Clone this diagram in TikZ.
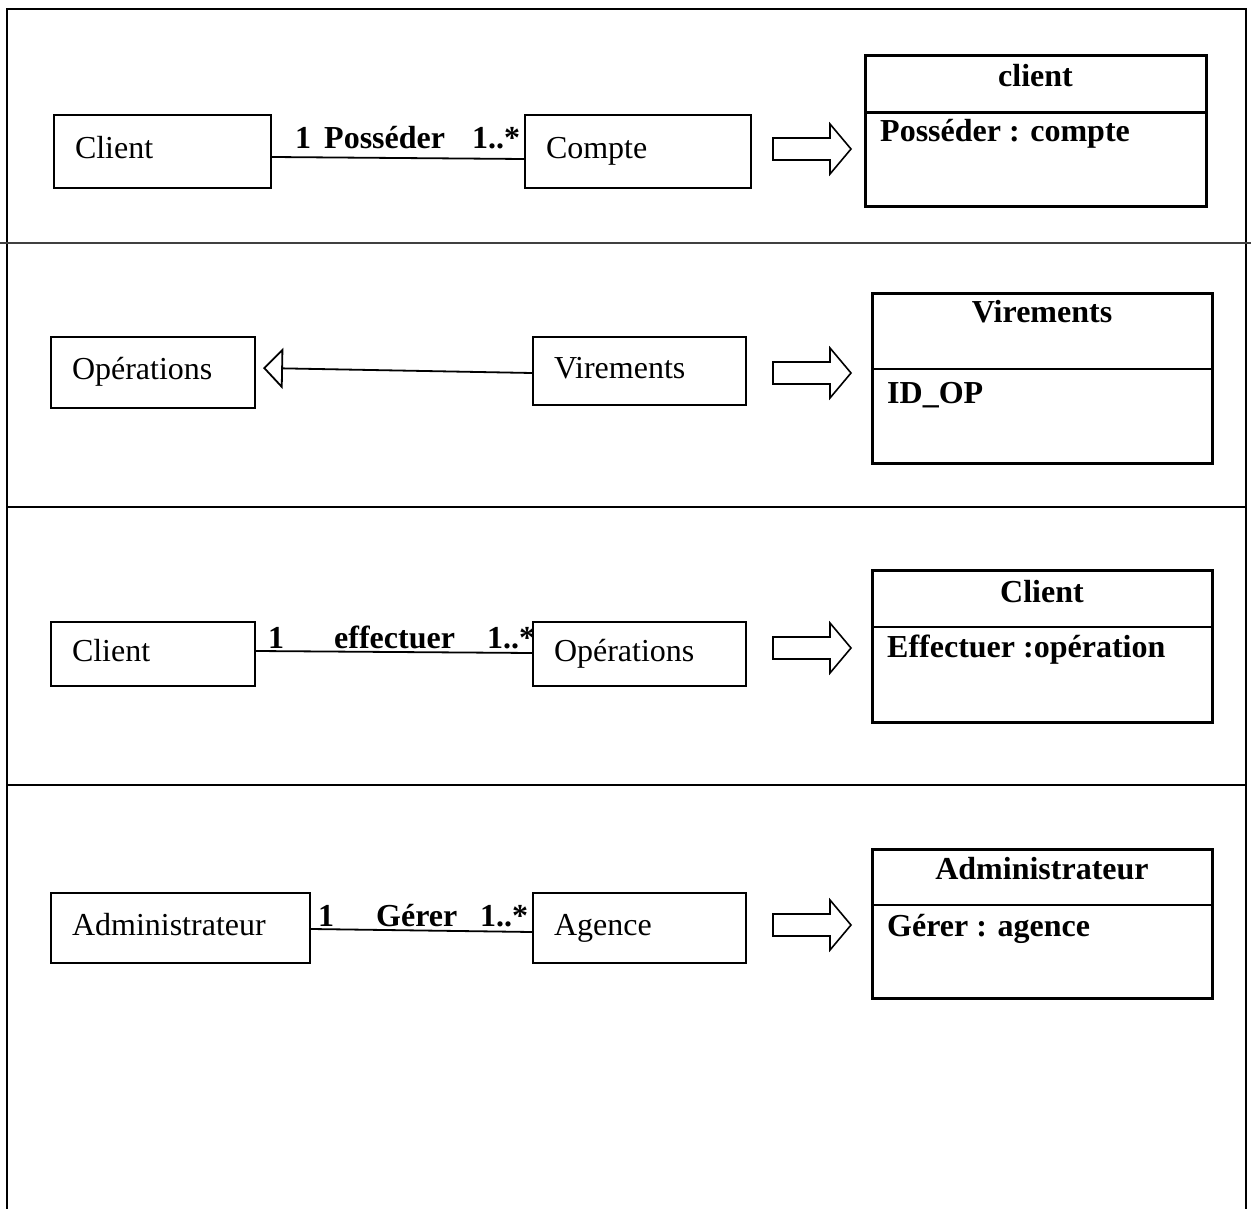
\documentclass[tikz,border=0pt]{standalone}
\usepackage{fontspec}
\setmainfont{Liberation Serif}
\usetikzlibrary{arrows.meta,positioning}

\begin{document}
\begin{tikzpicture}[x=1pt,y=-1pt,line join=miter,
  entity/.style={draw,line width=2pt,inner xsep=21pt,inner ysep=0pt,align=left,
    text height=22pt,text depth=8pt,font=\fontsize{32}{38}\selectfont},
  mult/.style={inner sep=0pt,anchor=base west,font=\fontsize{32}{38}\selectfont\bfseries},
  classbox/.style={draw,line width=3pt,inner sep=0pt},
  classline/.style={line width=2.6pt},
  classtxt/.style={inner sep=0pt,font=\fontsize{32}{38}\selectfont\bfseries},
  frame/.style={line width=2.6pt},
  link/.style={line width=1.8pt},
  bigarrow/.style={line width=1.6pt}]
  \useasboundingbox (0,0) rectangle (1251,1209);
  % outer frame and row separators
  \draw[frame] (7,1209) -- (7,9) -- (1246,9) -- (1246,1209);
  \draw[line width=2pt,black!75] (0,243) -- (1251,243);
  \draw[frame] (7,507) -- (1246,507);
  \draw[frame] (7,785) -- (1246,785);

  % row 1 : Client -- Compte
  \node[entity,text width=175pt,minimum height=73pt] (cl1) at (162.5,151.5) {Client};
  \node[entity,text width=184pt,minimum height=73pt] (co1) at (638,151.5) {Compte};
  \draw[link] ([yshift=-5.5pt]cl1.east) -- ([yshift=-7.5pt]co1.west);
  \node[mult] (m1a) at (295,149) {1};
  \node[mult] (r1) at (324,149) {Posséder};
  \node[mult] (m1b) at (472,149) {1..*};
  \draw[bigarrow] (773,138) -- (830,138) -- (830,124) -- (851,149) -- (830,174) -- (830,160) -- (773,160) -- cycle;
  \node[classbox,minimum width=341pt,minimum height=151pt] (cb1) at (1035.5,131.5) {};
  \draw[classline] (865,112.5) -- (1206,112.5);
  \node[classtxt,anchor=base] (t1) at (1035.5,87) {client};
  \node[classtxt,anchor=base west] (a1) at (880,142) {Posséder : compte};

  % row 2 : Virements herite de Operations
  \node[entity,text width=162pt,minimum height=71pt] (op2) at (153,372.5) {Opérations};
  \node[entity,text width=171pt,minimum height=68pt] (vi2) at (639.5,371) {Virements};
  \draw[link,-{Triangle[open,length=20pt,width=41pt,line width=1.8pt]}] ([yshift=-2pt]vi2.west) -- ([xshift=7pt,yshift=4.5pt]op2.east);
  \draw[bigarrow] (773,362) -- (830,362) -- (830,348) -- (851,373) -- (830,398) -- (830,384) -- (773,384) -- cycle;
  \node[classbox,minimum width=340pt,minimum height=169pt] (cb2) at (1042,378.5) {};
  \draw[classline] (872,369) -- (1212,369);
  \node[classtxt,anchor=base] (t2) at (1042,323) {Virements};
  \node[classtxt,anchor=base west] (a2) at (887,403) {ID\_OP};

  % row 3 : Client -- Operations
  \node[entity,text width=162pt,minimum height=64pt] (cl3) at (153,654) {Client};
  \node[entity,text width=171pt,minimum height=64pt] (op3) at (639.5,654) {Opérations};
  \draw[link] ([yshift=3pt]cl3.east) -- ([yshift=1pt]op3.west);
  \node[mult] (m3a) at (268,648) {1};
  \node[mult] (r3) at (334,648) {effectuer};
  \node[mult] (m3b) at (487,648) {1..*};
  \draw[bigarrow] (773,637) -- (830,637) -- (830,623) -- (851,648) -- (830,673) -- (830,659) -- (773,659) -- cycle;
  \node[classbox,minimum width=340pt,minimum height=152pt] (cb3) at (1042,646) {};
  \draw[classline] (872,627) -- (1212,627);
  \node[classtxt,anchor=base] (t3) at (1042,602) {Client};
  \node[classtxt,anchor=base west] (a3) at (887,657) {Effectuer :opération};

  % row 4 : Administrateur -- Agence
  \node[entity,text width=217pt,minimum height=70pt] (ad4) at (180.5,928) {Administrateur};
  \node[entity,text width=171pt,minimum height=70pt] (ag4) at (639.5,928) {Agence};
  \draw[link] ([yshift=-1pt]ad4.east) -- ([yshift=-4pt]ag4.west);
  \node[mult] (m4a) at (318,926) {1};
  \node[mult] (r4) at (376,926) {Gérer};
  \node[mult] (m4b) at (480,926) {1..*};
  \draw[bigarrow] (773,914) -- (830,914) -- (830,900) -- (851,925) -- (830,950) -- (830,936) -- (773,936) -- cycle;
  \node[classbox,minimum width=340pt,minimum height=149pt] (cb4) at (1042,923.5) {};
  \draw[classline] (872,905) -- (1212,905);
  \node[classtxt,anchor=base] (t4) at (1042,879) {Administrateur};
  \node[classtxt,anchor=base west] (a4) at (887,936) {Gérer : agence};
\end{tikzpicture}
\end{document}
